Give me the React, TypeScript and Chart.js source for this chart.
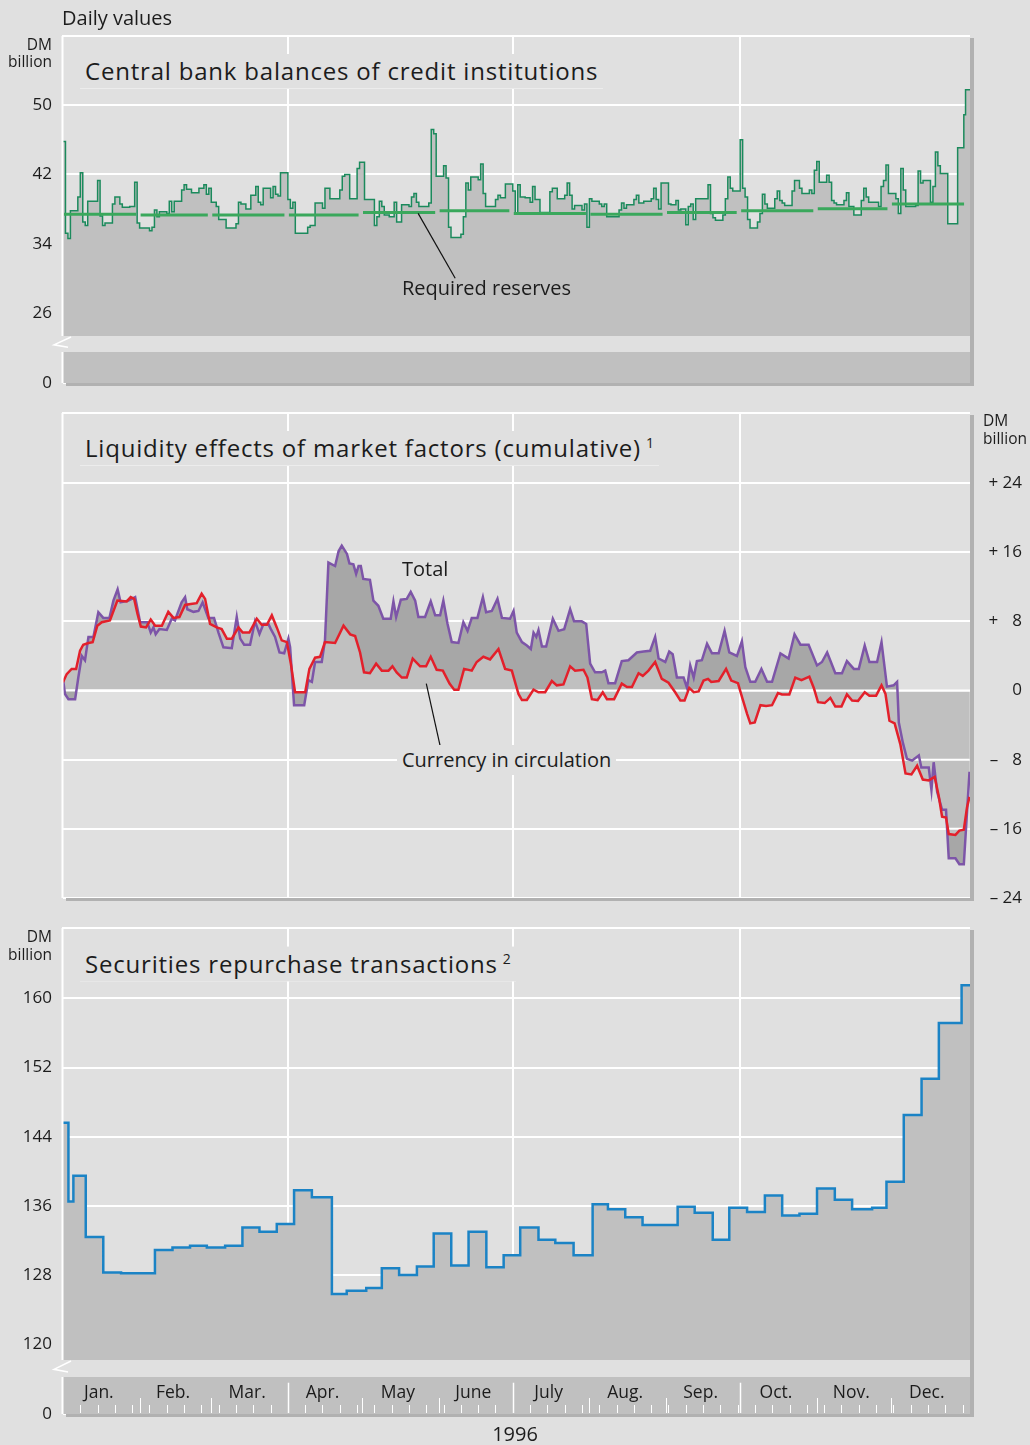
import React, { useEffect, useRef } from 'react';
import { Chart, registerables } from 'chart.js';

Chart.register(...registerables);

const FONT = '"Open Sans", "Noto Sans", "DejaVu Sans", sans-serif';
Chart.defaults.font.family = FONT;

const BG = '#e0e0e0';
const FILL_LIGHT = '#c0c0c0';
const FILL_DARK = '#a7a7a7';
const SHADOW = '#b1b1b1';
const TEXT = '#1c1c1c';
const GRID = '#ffffff';

// ---- x axis: day of 1996 (0 = 1 Jan) ----
const monthStarts = [0, 31, 60, 91, 121, 152, 182, 213, 244, 274, 305, 335, 366];
const monthLabels = ['Jan.', 'Feb.', 'Mar.', 'Apr.', 'May', 'June', 'July', 'Aug.', 'Sep.', 'Oct.', 'Nov.', 'Dec.'];
const quarterStarts = [91, 182, 274];
const X_MAX = 367;

// ---- Panel 1: central bank balances (DM billion), [day, value] ----
const balancePoints: [number, number][] = [
  [0, 45.8], [1, 35.2], [2, 34.6], [3, 37.8], [6, 39.4], [7, 42.2], [8, 36.5], [9, 36.1], [10, 38.9], [14, 41.3],
  [15, 37.2], [16, 36.1], [17, 36.4], [20, 38.6], [21, 39.4], [23, 38.6], [24, 38.2], [27, 38.3], [29, 41.1], [30, 36.4],
  [31, 35.8], [35, 35.5], [36, 35.9], [37, 37.9], [38, 37.1], [39, 37.7], [42, 37.5], [43, 38.9], [44, 37.7], [45, 38.9],
  [48, 40.2], [49, 40.8], [50, 40.3], [52, 39.9], [55, 40.4], [57, 40.8], [58, 39.7], [59, 40.4], [60, 38.8], [62, 38.3],
  [63, 36.8], [66, 35.8], [70, 36.3], [71, 38.8], [72, 38.6], [74, 38.0], [76, 39.6], [78, 40.6], [79, 38.8], [80, 38.5],
  [81, 40.4], [84, 39.3], [85, 40.6], [86, 39.7], [87, 39.5], [88, 42.2], [91, 39.1], [92, 38.1], [93, 38.8], [94, 35.2],
  [99, 35.9], [100, 36.1], [102, 38.7], [105, 38.1], [106, 40.4], [108, 39.2], [112, 40.2], [113, 41.8], [114, 42.0], [116, 39.2],
  [119, 42.7], [120, 43.4], [122, 39.1], [126, 36.1], [127, 37.1], [128, 38.9], [129, 38.3], [130, 37.3], [132, 37.1], [134, 38.8],
  [135, 36.5], [137, 38.5], [140, 38.3], [141, 39.4], [142, 39.8], [143, 38.8], [144, 38.3], [148, 38.7], [149, 47.2], [150, 46.7],
  [151, 41.8], [154, 43.0], [155, 41.6], [156, 35.9], [157, 34.7], [161, 35.1], [162, 37.1], [163, 41.0], [164, 40.2], [165, 41.7],
  [168, 41.4], [169, 43.2], [170, 39.8], [171, 38.3], [175, 39.1], [176, 39.6], [177, 39.3], [179, 40.9], [182, 40.1], [183, 37.5],
  [184, 40.8], [185, 39.4], [187, 39.3], [189, 38.8], [190, 40.6], [191, 39.1], [193, 37.6], [197, 40.0], [198, 40.4], [200, 39.2],
  [203, 39.6], [204, 41.0], [205, 39.6], [206, 38.0], [207, 38.4], [210, 37.9], [211, 38.6], [212, 35.9], [213, 39.2], [214, 38.9],
  [217, 38.6], [218, 38.3], [219, 38.6], [220, 37.1], [225, 37.9], [226, 38.7], [227, 38.1], [228, 38.5], [231, 39.1], [232, 39.6],
  [233, 38.7], [235, 38.9], [238, 39.2], [239, 40.4], [240, 39.1], [241, 38.0], [242, 41.0], [245, 38.6], [246, 38.5], [248, 39.0],
  [249, 37.9], [250, 38.0], [252, 36.2], [253, 38.3], [254, 38.6], [255, 36.8], [256, 39.2], [261, 40.8], [262, 37.5], [263, 37.0],
  [264, 36.7], [267, 37.3], [268, 39.2], [269, 41.7], [270, 40.4], [271, 40.1], [274, 46.0], [275, 40.4], [276, 39.4], [277, 36.8],
  [278, 35.8], [281, 36.5], [282, 37.5], [283, 39.7], [284, 38.6], [285, 38.1], [288, 39.2], [289, 40.1], [290, 39.0], [291, 38.7],
  [292, 38.4], [295, 40.1], [296, 41.3], [298, 40.4], [299, 39.8], [302, 40.2], [303, 39.8], [304, 42.5], [305, 43.5], [306, 41.1],
  [309, 41.9], [310, 41.1], [311, 39.0], [312, 38.7], [313, 38.5], [316, 39.0], [317, 39.9], [318, 38.3], [320, 37.3], [323, 39.0],
  [324, 40.4], [325, 39.4], [326, 38.8], [330, 38.3], [331, 40.6], [332, 41.3], [333, 43.1], [334, 39.8], [337, 39.2], [338, 37.5],
  [339, 42.7], [340, 40.2], [341, 38.3], [345, 38.4], [346, 42.4], [347, 41.0], [348, 41.3], [351, 38.8], [352, 40.6], [353, 44.6],
  [354, 43.0], [355, 42.1], [358, 36.3], [362, 45.1], [364.5, 48.9], [365.2, 51.8], [367, 51.8],
];
// monthly required reserves (DM billion), Jan..Dec
const reserveValues = [37.4, 37.3, 37.3, 37.3, 37.6, 37.8, 37.5, 37.4, 37.6, 37.8, 38.05, 38.6];
const topTickValues = [17.9, 26, 34, 42, 50];
const topTickLabels = ['0', '26', '34', '42', '50'];
const TOP_MIN = 17.9;
const TOP_MAX = 58.0;
const TOP_BREAK: [number, number] = [23.3, 21.5];

// ---- Panel 2: liquidity effects (cumulative), [day, value] ----
const totalPoints: [number, number][] = [
  [0, 1.35], [0.8, -0.4], [2.2, -1.0], [4.9, -1.0], [6.2, 1.5], [7.6, 4.0], [8.9, 3.5], [10.3, 6.2], [12.3, 6.2], [14.3, 9.05],
  [16.3, 8.4], [18.8, 8.4], [20.4, 10.4], [22.1, 11.7], [23.3, 10.2], [26.5, 10.4], [29.2, 10.8], [31.2, 7.9], [34.1, 7.9], [35.5, 6.7],
  [36.6, 7.3], [37.5, 6.5], [39, 7.1], [42, 7.0], [44, 8.3], [45.3, 8.1], [48, 10.2], [49.4, 10.8], [50.3, 9.4], [52.8, 9.1],
  [54.8, 9.2], [56.5, 10.2], [58.8, 8.4], [61.1, 8.4], [62.9, 6.7], [64.9, 5.0], [68.3, 4.9], [70.3, 8.5], [71.7, 6.0], [73.3, 5.3],
  [75.7, 5.3], [77.7, 8.0], [79.5, 6.55], [81.1, 7.7], [83.1, 7.7], [84.1, 7.1], [85.8, 6.2], [87.6, 4.4], [89.5, 4.3], [91.2, 6.0],
  [91.9, 5.0], [93.5, -1.7], [97.6, -1.7], [99.3, 1.2], [100.7, 1.0], [102, 3.3], [104.7, 3.3], [106, 5.8], [107.4, 14.8], [110.1, 14.4],
  [111.5, 16.1], [112.8, 16.75], [114.9, 15.8], [115.9, 14.7], [117.5, 14.6], [118.6, 13.5], [119.6, 14.4], [120.5, 14.4], [121.5, 12.9], [124.2, 12.8],
  [125.6, 10.4], [127.6, 9.8], [129.6, 8.3], [132.6, 8.3], [133.7, 10.3], [134.8, 8.5], [136.7, 10.5], [139.1, 10.6], [140.7, 11.4], [142.5, 10.4],
  [143.8, 8.5], [146.5, 8.5], [148.8, 10.3], [150.6, 8.7], [152.6, 8.7], [153.9, 10.4], [155.6, 7.7], [157.3, 5.6], [160, 5.5], [162, 7.9],
  [163.7, 6.9], [165.4, 8.4], [167.7, 8.4], [169.9, 10.8], [171.2, 9.05], [173.5, 9.2], [175.8, 10.6], [177.6, 8.4], [180.9, 8.3], [182.3, 9.2],
  [183.6, 6.7], [185.7, 5.6], [187.7, 5.2], [189.3, 4.8], [190.4, 6.7], [191.5, 6.2], [192.4, 7.0], [193.8, 5.1], [195.5, 5.1], [198.2, 8.3],
  [200.5, 6.9], [202.8, 7.1], [205.2, 9.4], [206.8, 8.0], [209.9, 8.0], [211.7, 7.7], [213.3, 3.1], [215.3, 2.1], [218, 2.1], [219.4, 2.3],
  [220.7, 0.85], [223.4, 0.85], [226.1, 3.4], [228.8, 3.5], [232.2, 4.4], [234.9, 4.5], [237.6, 4.6], [239.6, 6.2], [241, 3.7], [243.7, 3.3],
  [245.3, 4.5], [246.7, 4.2], [248.4, 1.5], [251.1, 1.5], [252.5, 0.3], [253.8, 2.9], [255.2, 1.5], [256.5, 3.4], [258.5, 3.5], [260.6, 5.4],
  [262.6, 4.3], [265.3, 4.3], [267.7, 6.9], [269.6, 4.4], [272.7, 4.0], [274.7, 5.7], [276.1, 2.7], [278.1, 1.0], [280.1, 1.0], [282.6, 2.5],
  [284.9, 1.0], [286.9, 1.0], [290.3, 4.3], [293.6, 3.7], [296, 6.5], [298.4, 5.3], [301.7, 5.3], [305.1, 2.9], [307.1, 3.3], [309.2, 4.4],
  [312.5, 2.0], [315.2, 2.0], [317.2, 3.4], [320, 2.5], [322, 2.5], [324.4, 5.2], [326.3, 3.3], [329.4, 3.3], [331.2, 5.6], [333.4, 0.45],
  [336.1, 0.6], [337.5, 1.0], [338.2, -3.7], [339.8, -6.0], [341.5, -7.9], [343.6, -8.1], [346.3, -7.5], [347.3, -8.9], [350.3, -8.9], [351.4, -11.5],
  [352.3, -8.3], [353.7, -11.7], [355.7, -13.8], [357.3, -13.8], [358.4, -19.4], [361.1, -19.4], [362.7, -20.1], [364.5, -20.1], [366.8, -9.4],
];
const currencyPoints: [number, number][] = [
  [0, 0.96], [1.5, 1.9], [3.5, 2.5], [5.3, 2.5], [6.9, 4.6], [8.2, 5.3], [10.3, 5.5], [12, 5.6], [13.9, 7.5], [15.7, 7.9],
  [19, 8.1], [22, 10.4], [25.8, 10.3], [27.4, 10.8], [28.8, 10.6], [30.1, 8.9], [31.5, 7.4], [33.6, 7.3], [35.5, 8.2], [37.3, 7.5],
  [40, 7.5], [42.6, 9.1], [44.7, 8.4], [47.1, 8.5], [49.4, 9.9], [51.7, 10.0], [54.1, 10.1], [56.1, 11.2], [57.5, 10.6], [59.5, 7.7],
  [62.2, 7.3], [64.2, 7.1], [66.3, 6.0], [68.3, 6.0], [71, 7.3], [72.7, 6.7], [75.4, 6.7], [78.4, 8.3], [80.4, 7.6], [82.5, 7.6],
  [84.5, 8.7], [86.5, 7.3], [88.5, 5.8], [90.6, 5.6], [92.2, 3.1], [93.9, -0.2], [98, -0.2], [99.7, 2.5], [102, 3.8], [104, 3.9],
  [106, 5.6], [110.1, 5.5], [113.5, 7.5], [116.2, 6.5], [118.2, 6.3], [120.2, 4.4], [121.8, 2.1], [124.2, 2.0], [126.7, 3.1], [129, 2.3],
  [131.7, 2.3], [133.3, 2.8], [135, 2.1], [137.1, 1.5], [139.1, 1.5], [141.5, 3.7], [144.5, 2.8], [146.9, 2.8], [148.8, 3.9], [151.2, 2.4],
  [153.7, 2.3], [156.4, 0.8], [158.3, 0.1], [160, 0.1], [162.3, 2.5], [165.4, 2.3], [167.4, 3.3], [170.1, 3.9], [172.8, 3.6], [176.2, 4.8],
  [178.9, 2.5], [181.6, 2.3], [184.3, -0.4], [185.7, -1.1], [187.7, -1.1], [190.4, 0.1], [192.4, -0.2], [195.1, -0.2], [197.8, 1.1], [199.8, 0.6],
  [202.5, 0.7], [205.2, 2.8], [207.2, 2.3], [210.6, 2.4], [212.2, 1.5], [214, -1.0], [216.3, -1.1], [218.4, -0.2], [220.1, -1.0], [223, -1.0],
  [226.1, 0.8], [228.2, 0.4], [230.2, 0.4], [232.9, 2.0], [234.6, 1.7], [236.9, 2.3], [239.6, 3.3], [242.3, 1.35], [245, 0.9], [247.7, -0.2],
  [249.8, -1.15], [251.5, -1.15], [253.4, 0.3], [255.2, -0.2], [257.2, -0.1], [259.2, 1.15], [261, 1.35], [262.3, 1.0], [265.3, 1.1], [268.3, 2.5],
  [270.4, 1.15], [273.1, 0.85], [275, -1.0], [276.8, -2.7], [278.1, -3.8], [279.9, -3.7], [282.2, -1.7], [284.5, -1.8], [286.9, -1.7], [289.3, -0.3],
  [290.9, -0.45], [293.9, -0.45], [296.3, 1.5], [298.8, 1.2], [302, 1.6], [303.8, 0.3], [305.5, -1.35], [308.2, -1.45], [310.5, -0.85], [312.5, -1.85],
  [315, -1.85], [317.2, -0.45], [319.3, -1.15], [321.7, -1.2], [324.4, -0.2], [326.3, -0.6], [329, -0.6], [331.2, 0.6], [332.8, -0.4], [334.4, -3.5],
  [336.5, -3.8], [338.8, -6.2], [340.9, -9.6], [343.3, -9.7], [345.6, -8.7], [347.9, -10.3], [350.3, -10.4], [352.7, -10.0], [354.4, -12.3], [355.7, -14.6],
  [357.3, -14.7], [358.4, -16.6], [361.1, -16.7], [362.7, -16.2], [364.5, -16.1], [365.8, -13.5], [366.8, -12.3],
];
const midTickValues = [-24, -16, -8, 0, 8, 16, 24];
const midTickLabels = ['\u2013 24', '\u2013 16', '\u2013 \u20078', '0', '+ \u20078', '+ 16', '+ 24'];
const MID_MIN = -24;
const MID_MAX = 32.1;

// ---- Panel 3: securities repurchase transactions, [day, value] ----
const repoPoints: [number, number][] = [
  [0, 145.6], [2.2, 136.5], [4.2, 139.5], [9.2, 132.4], [16.3, 128.3], [23.5, 128.2], [37.2, 130.9], [44.3, 131.2], [51.4, 131.4], [58.2, 131.2],
  [65.6, 131.4], [72.6, 133.5], [79.5, 133.0], [86.5, 133.9], [93.5, 137.8], [100.7, 137.0], [108.8, 125.8], [114.8, 126.2], [122.7, 126.5], [129, 128.8],
  [136, 128.0], [143.2, 129.0], [150, 132.8], [157.1, 129.1], [164.1, 133.0], [171.3, 128.9], [178.3, 130.3], [185, 133.5], [192.4, 132.1], [199.2, 131.7],
  [206.6, 130.3], [214.3, 136.2], [220.5, 135.6], [227.5, 134.7], [234.5, 133.8], [248.7, 135.9], [255.6, 135.2], [262.9, 132.1], [269.6, 135.8], [276.8, 135.3],
  [284, 137.2], [291, 134.9], [298, 135.1], [305.1, 138.0], [312.3, 136.7], [319.3, 135.6], [327.4, 135.8], [333.2, 138.8], [340.2, 146.5], [347.4, 150.7],
  [354.4, 157.15], [363.6, 161.5], [367, 161.5],
];
const botTickValues = [111.94, 120, 128, 136, 144, 152, 160];
const botTickLabels = ['0', '120', '128', '136', '144', '152', '160'];
const BOT_MIN = 111.94;
const BOT_MAX = 168.13;
const BOT_BREAK: [number, number] = [118.2, 116.25];

// ---- annotation leaders: [day, value] -> [day, value] ----
const reserveLeader: [number, number][] = [[143.7, 37.5], [158.7, 30.0]];
const currencyLeader: [number, number][] = [[147, 0.8], [152.6, -6.4]];

const toXY = (pts: [number, number][]) => pts.map(([x, y]) => ({ x, y }));

function xScale(extra: any = {}) {
  return {
    type: 'linear',
    min: 0,
    max: X_MAX,
    afterBuildTicks: (s: any) => {
      s.ticks = quarterStarts.map((v) => ({ value: v }));
    },
    ticks: { display: false },
    grid: { color: GRID, lineWidth: 2, drawTicks: false },
    border: { display: false },
    afterFit: (s: any) => {
      s.height = 0;
      s.paddingLeft = 0;
      s.paddingRight = 0;
    },
    ...extra,
  };
}

function framePlugin(band?: [number, number]) {
  return {
    id: 'frame',
    afterDatasetsDraw(chart: any) {
      const { ctx, chartArea: a } = chart;
      const ys = chart.scales.y;
      ctx.save();
      let bTop = 0;
      let bBot = 0;
      if (band) {
        bTop = Math.round(ys.getPixelForValue(band[0]));
        bBot = Math.round(ys.getPixelForValue(band[1]));
        ctx.fillStyle = BG;
        ctx.fillRect(a.left - 2, bTop, a.right - a.left + 2, bBot - bTop);
      }
      // shadows
      ctx.fillStyle = SHADOW;
      ctx.fillRect(a.right, a.top + 2, 4, a.bottom - a.top + 1);
      ctx.fillRect(a.left + 3, a.bottom, a.right - a.left + 1, 3);
      // white frame
      ctx.strokeStyle = GRID;
      ctx.lineWidth = 2;
      ctx.beginPath();
      ctx.moveTo(a.left - 1, a.top);
      ctx.lineTo(a.right, a.top);
      ctx.stroke();
      ctx.beginPath();
      if (band) {
        ctx.moveTo(a.left - 0.5, a.top);
        ctx.lineTo(a.left - 0.5, bTop);
        ctx.moveTo(a.left - 0.5, bBot);
        ctx.lineTo(a.left - 0.5, a.bottom);
        ctx.stroke();
        ctx.lineWidth = 1.5;
        ctx.beginPath();
        ctx.moveTo(a.left + 8, bTop + 1);
        ctx.lineTo(a.left - 9, bTop + (bBot - bTop) * 0.55);
        ctx.lineTo(a.left + 5, bTop + (bBot - bTop) * 0.7);
        ctx.stroke();
      } else {
        ctx.moveTo(a.left - 0.5, a.top);
        ctx.lineTo(a.left - 0.5, a.bottom);
        ctx.stroke();
      }
      ctx.restore();
    },
  };
}

function leaderPlugin(pts: [number, number][]) {
  return {
    id: 'leader',
    afterDatasetsDraw(chart: any) {
      const { ctx, scales } = chart;
      ctx.save();
      ctx.strokeStyle = '#111';
      ctx.lineWidth = 1.2;
      ctx.beginPath();
      ctx.moveTo(scales.x.getPixelForValue(pts[0][0]), scales.y.getPixelForValue(pts[0][1]));
      ctx.lineTo(scales.x.getPixelForValue(pts[1][0]), scales.y.getPixelForValue(pts[1][1]));
      ctx.stroke();
      ctx.restore();
    },
  };
}

// horizontal grid lines re-drawn over the light (currency) area only, and the zero line
const midGridPlugin = {
  id: 'midGrid',
  beforeDatasetsDraw(chart: any) {
    const { ctx, chartArea: a, scales } = chart;
    const ys = scales.y;
    const pts = chart.getDatasetMeta(0).data as any[];
    if (!pts.length) return;
    const y0 = ys.getPixelForValue(0);
    ctx.save();
    ctx.beginPath();
    ctx.moveTo(pts[0].x, y0);
    pts.forEach((p) => ctx.lineTo(p.x, p.y));
    ctx.lineTo(pts[pts.length - 1].x, y0);
    ctx.closePath();
    ctx.clip();
    ctx.strokeStyle = GRID;
    ctx.lineWidth = 2;
    midTickValues.forEach((v) => {
      const py = ys.getPixelForValue(v);
      ctx.beginPath();
      ctx.moveTo(a.left, py);
      ctx.lineTo(a.right, py);
      ctx.stroke();
    });
    ctx.restore();
    ctx.save();
    ctx.strokeStyle = GRID;
    ctx.lineWidth = 2;
    ctx.beginPath();
    ctx.moveTo(a.left, y0);
    ctx.lineTo(a.right, y0);
    ctx.stroke();
    ctx.restore();
  },
};

const monthBandPlugin = {
  id: 'monthBand',
  afterDatasetsDraw(chart: any) {
    const { ctx, chartArea: a, scales } = chart;
    const xs = scales.x;
    const bandTop = scales.y.getPixelForValue(BOT_BREAK[1]);
    const base = a.bottom - 1;
    ctx.save();
    ctx.strokeStyle = GRID;
    ctx.lineWidth = 1;
    const tick = (d: number, top: number) => {
      const px = Math.round(xs.getPixelForValue(d)) + 0.5;
      ctx.beginPath();
      ctx.moveTo(px, base);
      ctx.lineTo(px, top);
      ctx.stroke();
    };
    for (let d = 7; d < X_MAX - 1; d += 7) {
      if (monthStarts.indexOf(d) === -1) tick(d, base - 8);
    }
    monthStarts.slice(1, 12).forEach((d) => {
      if (quarterStarts.indexOf(d) !== -1) {
        ctx.lineWidth = 1.5;
        tick(d, bandTop + 6);
        ctx.lineWidth = 1;
      } else {
        tick(d, base - 15);
      }
    });
    ctx.fillStyle = TEXT;
    ctx.font = `17.5px ${FONT}`;
    ctx.textAlign = 'center';
    ctx.textBaseline = 'middle';
    monthLabels.forEach((lab, i) => {
      const mid = (monthStarts[i] + monthStarts[i + 1]) / 2 - 1;
      ctx.fillText(lab, xs.getPixelForValue(mid), a.bottom - 21);
    });
    ctx.restore();
  },
};

function yScale(min: number, max: number, values: number[], labels: string[], width: number, extra: any = {}) {
  return {
    min,
    max,
    afterBuildTicks: (s: any) => {
      s.ticks = values.map((v) => ({ value: v }));
    },
    ticks: {
      autoSkip: false,
      callback: (_v: any, i: number) => labels[i],
      font: { size: 17, family: FONT },
      color: TEXT,
      padding: 11,
    },
    grid: { color: GRID, lineWidth: 2, drawTicks: false },
    border: { display: false },
    afterFit: (s: any) => {
      s.width = width;
      s.paddingTop = 0;
      s.paddingBottom = 0;
    },
    ...extra,
  };
}

const baseOptions = {
  animation: false,
  responsive: false,
  maintainAspectRatio: false,
  events: [],
  elements: { point: { radius: 0 } },
};

function Label(props: {
  x: number;
  y: number;
  size: number;
  anchor?: 'left' | 'right' | 'center';
  bg?: boolean;
  spacing?: number;
  children: any;
}) {
  const { x, y, size, anchor = 'left', bg = false, spacing = 0, children } = props;
  const tx = anchor === 'left' ? '0' : anchor === 'right' ? '-100%' : '-50%';
  return (
    <div
      style={{
        position: 'absolute',
        left: bg && anchor === 'left' ? x - 5 : x,
        top: y,
        transform: `translate(${tx}, -50%)`,
        fontFamily: FONT,
        fontSize: size,
        letterSpacing: spacing,
        lineHeight: 1.2,
        color: TEXT,
        whiteSpace: 'nowrap',
        background: bg ? BG : 'transparent',
        padding: bg ? '3px 5px' : 0,
      }}
    >
      {children}
    </div>
  );
}

export default function App() {
  const topRef = useRef<HTMLCanvasElement>(null);
  const midRef = useRef<HTMLCanvasElement>(null);
  const botRef = useRef<HTMLCanvasElement>(null);

  useEffect(() => {
    const reservePts: any[] = [];
    reserveValues.forEach((r, i) => {
      reservePts.push({ x: monthStarts[i] + 0.4, y: r });
      reservePts.push({ x: monthStarts[i + 1] - 1.4, y: r });
      reservePts.push({ x: monthStarts[i + 1] - 1, y: null });
    });

    const top = new Chart(topRef.current as HTMLCanvasElement, {
      type: 'line',
      data: {
        datasets: [
          {
            label: 'Required reserves',
            data: reservePts,
            borderColor: '#3aa85c',
            borderWidth: 3,
            fill: false,
            spanGaps: false,
            pointRadius: 0,
          },
          {
            label: 'Central bank balances',
            data: toXY(balancePoints),
            borderColor: '#1b8a5c',
            borderWidth: 1.5,
            stepped: true,
            fill: 'start',
            backgroundColor: FILL_LIGHT,
            pointRadius: 0,
          },
        ],
      },
      options: {
        ...baseOptions,
        layout: { padding: { top: 36, right: 60, bottom: 17, left: 0 } },
        plugins: { legend: { display: false }, tooltip: { enabled: false } },
        scales: {
          x: xScale(),
          y: yScale(TOP_MIN, TOP_MAX, topTickValues, topTickLabels, 63),
        },
      } as any,
      plugins: [framePlugin(TOP_BREAK), leaderPlugin(reserveLeader)],
    } as any);

    const mid = new Chart(midRef.current as HTMLCanvasElement, {
      type: 'line',
      data: {
        datasets: [
          {
            label: 'Currency in circulation',
            data: toXY(currencyPoints),
            borderColor: '#e3202b',
            borderWidth: 2.5,
            fill: 'origin',
            backgroundColor: FILL_LIGHT,
            pointRadius: 0,
          },
          {
            label: 'Total',
            data: toXY(totalPoints),
            borderColor: '#7d55a8',
            borderWidth: 2.5,
            fill: 'origin',
            backgroundColor: FILL_DARK,
            pointRadius: 0,
          },
        ],
      },
      options: {
        ...baseOptions,
        layout: { padding: { top: 13, right: 8, bottom: 12, left: 63 } },
        plugins: {
          legend: { display: false },
          tooltip: { enabled: false },
          filler: { drawTime: 'beforeDatasetsDraw' },
        },
        scales: {
          x: xScale(),
          y: yScale(MID_MIN, MID_MAX, midTickValues, midTickLabels, 52, {
            position: 'right',
            ticks: {
              autoSkip: false,
              callback: (_v: any, i: number) => midTickLabels[i],
              font: { size: 17, family: FONT },
              color: TEXT,
              padding: 10,
              crossAlign: 'far',
            },
          }),
        },
      } as any,
      plugins: [midGridPlugin, framePlugin(), leaderPlugin(currencyLeader)],
    } as any);

    const bot = new Chart(botRef.current as HTMLCanvasElement, {
      type: 'line',
      data: {
        datasets: [
          {
            label: 'Securities repurchase transactions',
            data: toXY(repoPoints),
            borderColor: '#1b83c5',
            borderWidth: 2.5,
            stepped: true,
            fill: 'start',
            backgroundColor: FILL_LIGHT,
            pointRadius: 0,
          },
        ],
      },
      options: {
        ...baseOptions,
        layout: { padding: { top: 18, right: 60, bottom: 31, left: 0 } },
        plugins: { legend: { display: false }, tooltip: { enabled: false } },
        scales: {
          x: xScale(),
          y: yScale(BOT_MIN, BOT_MAX, botTickValues, botTickLabels, 63),
        },
      } as any,
      plugins: [framePlugin(BOT_BREAK), monthBandPlugin],
    } as any);

    return () => {
      top.destroy();
      mid.destroy();
      bot.destroy();
    };
  }, []);

  const canvasStyle = (t: number, h: number): React.CSSProperties => ({
    position: 'absolute',
    left: 0,
    top: t,
    width: 1030,
    height: h,
    display: 'block',
  });

  const sup = (n: string) => (
    <span style={{ fontSize: 14, position: 'relative', top: -9, marginLeft: 5, letterSpacing: 0 }}>{n}</span>
  );

  return (
    <div
      style={{
        position: 'absolute',
        left: 0,
        top: 0,
        width: 1030,
        height: 1445,
        background: BG,
        overflow: 'hidden',
      }}
    >
      <canvas ref={topRef} width={1030} height={400} style={canvasStyle(0, 400)} />
      <canvas ref={midRef} width={1030} height={510} style={canvasStyle(400, 510)} />
      <canvas ref={botRef} width={1030} height={535} style={canvasStyle(910, 535)} />

      <Label x={62} y={18} size={20}>Daily values</Label>

      <Label x={52} y={44} size={15.5} anchor="right">DM</Label>
      <Label x={52} y={61} size={15.5} anchor="right">billion</Label>
      <Label x={85} y={71} size={24} spacing={0.8} bg>Central bank balances of credit institutions</Label>
      <Label x={402} y={288} size={20}>Required reserves</Label>

      <Label x={983} y={420} size={15.5}>DM</Label>
      <Label x={983} y={438} size={15.5}>billion</Label>
      <Label x={85} y={448} size={24} spacing={0.8} bg>
        Liquidity effects of market factors (cumulative){sup('1')}
      </Label>
      <Label x={402} y={569} size={20}>Total</Label>
      <Label x={402} y={760} size={20} bg>Currency in circulation</Label>

      <Label x={52} y={936} size={15.5} anchor="right">DM</Label>
      <Label x={52} y={954} size={15.5} anchor="right">billion</Label>
      <Label x={85} y={964} size={24} spacing={0.8} bg>
        Securities repurchase transactions{sup('2')}
      </Label>

      <Label x={515} y={1434} size={20} anchor="center">1996</Label>
    </div>
  );
}
